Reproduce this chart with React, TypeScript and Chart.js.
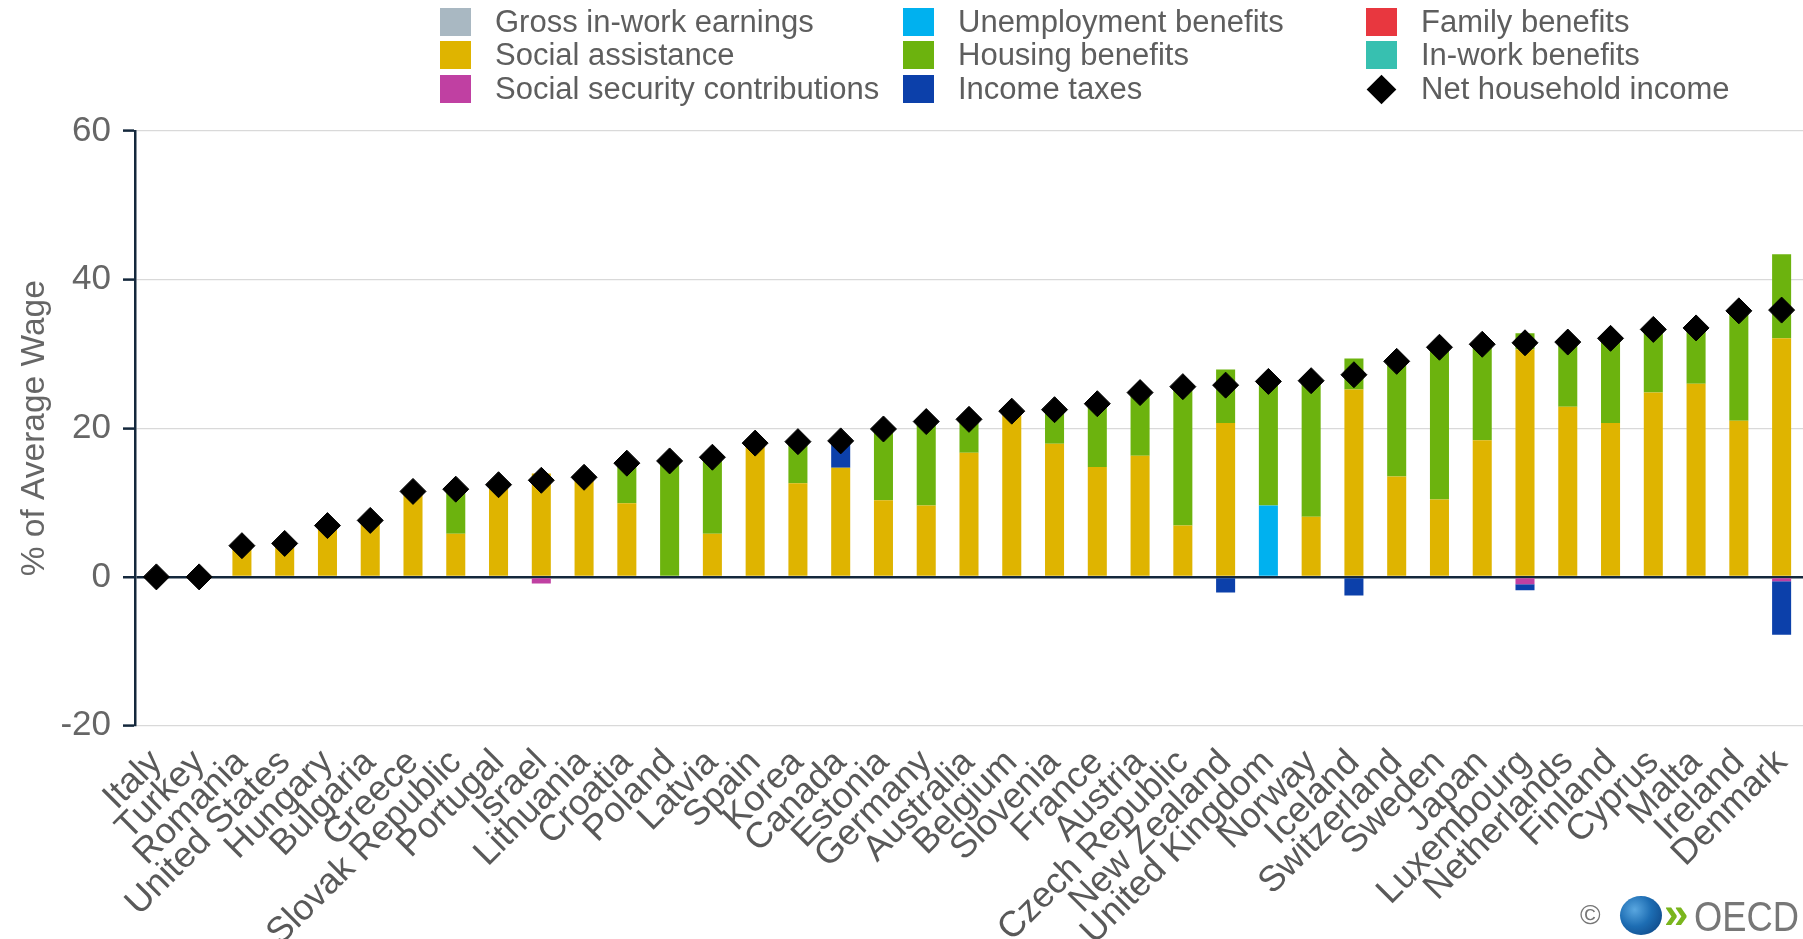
import React, { useEffect, useRef } from "react";
import { Chart, registerables } from "chart.js";

Chart.register(...registerables);

const countries = [
  "Italy", "Turkey", "Romania", "United States", "Hungary", "Bulgaria", "Greece",
  "Slovak Republic", "Portugal", "Israel", "Lithuania", "Croatia", "Poland", "Latvia",
  "Spain", "Korea", "Canada", "Estonia", "Germany", "Australia", "Belgium", "Slovenia",
  "France", "Austria", "Czech Republic", "New Zealand", "United Kingdom", "Norway",
  "Iceland", "Switzerland", "Sweden", "Japan", "Luxembourg", "Netherlands", "Finland",
  "Cyprus", "Malta", "Ireland", "Denmark",
];

const grossEarnings = [0, 0, 0, 0, 0, 0, 0, 0, 0, 0, 0, 0, 0, 0, 0, 0, 0, 0, 0, 0, 0, 0, 0, 0, 0, 0, 0, 0, 0, 0, 0, 0, 0, 0, 0, 0, 0, 0, 0];
const socialAssistance = [0, 0, 4.2, 4.5, 6.9, 7.6, 11.5, 5.8, 12.4, 13.9, 13.4, 9.9, 0, 5.8, 18.0, 12.6, 14.7, 10.3, 9.6, 16.7, 22.3, 17.9, 14.8, 16.3, 6.9, 20.7, 0, 8.1, 25.2, 13.5, 10.4, 18.4, 30.6, 22.9, 20.7, 24.8, 26.0, 21.0, 32.1];
const socialSecurity = [0, 0, 0, 0, 0, 0, 0, 0, 0, -0.9, 0, 0, 0, 0, 0, 0, 0, 0, 0, 0, 0, 0, 0, 0, 0, 0, 0, 0, 0, 0, 0, 0, -1.0, 0, 0, 0, 0, 0, -0.6];
const unemploymentBenefits = [0, 0, 0, 0, 0, 0, 0, 0, 0, 0, 0, 0, 0, 0, 0, 0, 0, 0, 0, 0, 0, 0, 0, 0, 0, 0, 9.6, 0, 0, 0, 0, 0, 0, 0, 0, 0, 0, 0, 0];
const housingBenefits = [0, 0, 0, 0, 0, 0, 0, 6.0, 0, 0, 0, 5.4, 15.6, 10.3, 0, 5.6, 0, 9.6, 11.3, 4.5, 0, 4.6, 8.5, 8.5, 18.7, 7.2, 16.7, 18.3, 4.2, 15.5, 20.5, 12.9, 2.2, 8.7, 11.4, 8.5, 7.5, 14.8, 11.3];
const incomeTaxes = [0, 0, 0, 0, 0, 0, 0, 0, 0, 0, 0, 0, 0, 0, 0, 0, 3.6, 0, 0, 0, 0, 0, 0, 0, 0, -2.1, 0, 0, -2.5, 0, 0, 0, -0.8, 0, 0, 0, 0, 0, -7.2];
const familyBenefits = [0, 0, 0, 0, 0, 0, 0, 0, 0, 0, 0, 0, 0, 0, 0, 0, 0, 0, 0, 0, 0, 0, 0, 0, 0, 0, 0, 0, 0, 0, 0, 0, 0, 0, 0, 0, 0, 0, 0];
const inWorkBenefits = [0, 0, 0, 0, 0, 0, 0, 0, 0, 0, 0, 0, 0, 0, 0, 0, 0, 0, 0, 0, 0, 0, 0, 0, 0, 0, 0, 0, 0, 0, 0, 0, 0, 0, 0, 0, 0, 0, 0];
const netIncome = [0, 0, 4.2, 4.5, 6.9, 7.6, 11.5, 11.8, 12.4, 13.0, 13.4, 15.3, 15.6, 16.1, 18.0, 18.2, 18.3, 19.9, 20.9, 21.2, 22.3, 22.5, 23.3, 24.8, 25.6, 25.8, 26.3, 26.4, 27.2, 29.0, 30.9, 31.3, 31.5, 31.6, 32.1, 33.3, 33.5, 35.8, 35.9];

const yMin = -20;
const yMax = 60;
const yStep = 20;

const FONT = '"Liberation Sans", Arial, Helvetica, sans-serif';
const DARK = "#14283c";

const series = [
  { label: "Gross in-work earnings", data: grossEarnings, color: "#a9b8c2" },
  { label: "Social assistance", data: socialAssistance, color: "#dfb400" },
  { label: "Social security contributions", data: socialSecurity, color: "#c040a2" },
  { label: "Unemployment benefits", data: unemploymentBenefits, color: "#00b1ef" },
  { label: "Housing benefits", data: housingBenefits, color: "#6cb30e" },
  { label: "Income taxes", data: incomeTaxes, color: "#0c40aa" },
  { label: "Family benefits", data: familyBenefits, color: "#e8373f" },
  { label: "In-work benefits", data: inWorkBenefits, color: "#37c0b0" },
];

const legendCols = [
  { sq: 440, tx: 495 },
  { sq: 903, tx: 958 },
  { sq: 1366, tx: 1421 },
];
const legendRows = [22, 55, 89];

export default function App() {
  const canvasRef = useRef<HTMLCanvasElement | null>(null);

  useEffect(() => {
    document.body.style.margin = "0";
    const canvas = canvasRef.current;
    if (!canvas) return;
    Chart.defaults.font.family = FONT;

    const datasets: any[] = series.map((s) => ({
      type: "bar",
      label: s.label,
      data: s.data,
      backgroundColor: s.color,
      borderWidth: 0,
      barPercentage: 0.445,
      categoryPercentage: 1,
      stack: "components",
    }));
    datasets.push({
      type: "line",
      label: "Net household income",
      data: netIncome,
      showLine: false,
      pointStyle: "rectRot",
      pointRadius: 13,
      pointBackgroundColor: "#000",
      pointBorderColor: "#000",
      pointBorderWidth: 1,
      borderColor: "#000",
      backgroundColor: "#000",
      stack: "net",
      order: -1,
    });

    const chart = new Chart(canvas, {
      type: "bar",
      data: { labels: countries, datasets },
      options: {
        animation: false,
        responsive: false,
        maintainAspectRatio: false,
        devicePixelRatio: 1,
        layout: { autoPadding: false, padding: { top: 131, left: 0, right: 0, bottom: 0 } },
        plugins: {
          legend: { display: false },
          tooltip: { enabled: false },
        },
        scales: {
          x: {
            stacked: true,
            grid: { display: false },
            border: { display: false },
            ticks: {
              autoSkip: false,
              minRotation: 45,
              maxRotation: 45,
              padding: 8,
              color: "#595959",
              font: { size: 36 },
            },
            afterFit: (scale: any) => {
              scale.height = 939 - 725.5;
              scale.paddingLeft = 0;
              scale.paddingRight = 0;
            },
          },
          y: {
            stacked: true,
            min: yMin,
            max: yMax,
            ticks: {
              stepSize: yStep,
              padding: 12,
              color: "#666",
              font: { size: 35 },
            },
            grid: {
              color: (ctx: any) => (ctx.tick && ctx.tick.value === 0 ? DARK : "#d9d9d9"),
              lineWidth: (ctx: any) => (ctx.tick && ctx.tick.value === 0 ? 2.5 : 1.2),
              drawTicks: true,
              tickLength: 12,
              tickColor: DARK,
              tickWidth: 2.5,
            },
            border: { display: true, color: DARK, width: 2.5 },
            title: {
              display: true,
              text: "% of Average Wage",
              color: "#666",
              font: { size: 33.5 },
              padding: { top: 15, bottom: 0 },
            },
            afterFit: (scale: any) => {
              scale.width = 135;
            },
          },
        },
      },
    });
    return () => chart.destroy();
  }, []);

  const legendItems = [
    ...series.map((s) => ({ label: s.label, color: s.color, diamond: false })),
    { label: "Net household income", color: "#000", diamond: true },
  ];

  return (
    <div style={{ position: "fixed", left: 0, top: 0, width: 1803, height: 939, overflow: "hidden", background: "#fff", fontFamily: FONT }}>
      <canvas ref={canvasRef} width={1803} height={939} style={{ position: "absolute", left: 0, top: 0, width: 1803, height: 939 }} />
      {legendItems.map((it, i) => {
        const col = legendCols[Math.floor(i / 3)];
        const rowY = legendRows[i % 3];
        return (
          <div key={it.label}>
            {it.diamond ? (
              <div style={{ position: "absolute", left: col.sq + 5, top: rowY - 10.5, width: 21, height: 21, background: "#000", transform: "rotate(45deg)" }} />
            ) : (
              <div style={{ position: "absolute", left: col.sq, top: rowY - 14, width: 31, height: 28, background: it.color }} />
            )}
            <div style={{ position: "absolute", left: col.tx, top: rowY - 18, height: 36, lineHeight: "36px", fontSize: 31, color: "#5e5e5e", whiteSpace: "nowrap" }}>
              {it.label}
            </div>
          </div>
        );
      })}
      <div style={{ position: "absolute", left: 1580, top: 898, fontSize: 28, lineHeight: "34px", color: "#777" }}>©</div>
      <div style={{ position: "absolute", left: 1620, top: 896, width: 42, height: 39, borderRadius: "50%", background: "radial-gradient(circle at 35% 35%, #5aa7e0 0%, #1d6db3 45%, #0b3d7a 100%)" }} />
      <div style={{ position: "absolute", left: 1664, top: 888, fontSize: 44, lineHeight: "50px", fontWeight: "bold", color: "#7ab51d" }}>»</div>
      <div style={{ position: "absolute", left: 1694, top: 893, fontSize: 42, lineHeight: "48px", color: "#777", transform: "scaleX(0.865)", transformOrigin: "left center", whiteSpace: "nowrap" }}>OECD</div>
    </div>
  );
}
